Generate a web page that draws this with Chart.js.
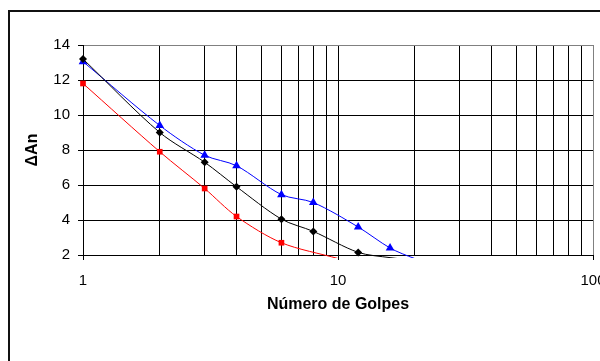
<!DOCTYPE html>
<html>
<head>
<meta charset="utf-8">
<script src="https://cdn.jsdelivr.net/npm/chart.js@4/dist/chart.umd.min.js"></script>
<style>
  html, body { margin: 0; padding: 0; background: #fff; overflow: hidden; }
  #frame { position: absolute; left: 8px; top: 10px; width: 700px; height: 500px;
           border-left: 2px solid #111; border-top: 2px solid #111; }
  #wrap { position: absolute; left: 0; top: 0; width: 650px; height: 361px; }
</style>
</head>
<body>
<div id="frame"></div>
<div id="wrap"><canvas id="chart"></canvas></div>
<script>
// golpes (x) and ΔAn (y)
const blackX = [1, 2, 3, 4, 6, 8, 12, 16, 20];
const blackY = [13.2, 9.0, 7.3, 5.9, 4.05, 3.35, 2.15, 1.85, 1.7];
const redX = [1, 2, 3, 4, 6, 10];
const redY = [11.8, 7.9, 5.8, 4.2, 2.7, 1.8];
const blueX = [1, 2, 3, 4, 6, 8, 12, 16, 20, 24];
const blueY = [13.05, 9.4, 7.7, 7.1, 5.45, 5.0, 3.6, 2.4, 1.8, 1.5];

const xGrid = [1, 2, 3, 4, 5, 6, 7, 8, 9, 10, 20, 30, 40, 50, 60, 70, 80, 90, 100];
const xLabels = [1, 10, 100];
const yTicks = [2, 4, 6, 8, 10, 12, 14];

const family = "'Liberation Sans', Arial, sans-serif";
const tickFont = { family: family, size: 15 };
const titleFont = { family: family, size: 16, weight: 'bold' };

function points(xs, ys) {
  return xs.map((x, i) => ({ x: x, y: ys[i] }));
}

function series(label, xs, ys, color, shape, r) {
  return {
    label: label,
    data: points(xs, ys),
    borderColor: color,
    backgroundColor: color,
    borderWidth: 1,
    tension: 0.3,
    pointStyle: shape,
    pointRadius: ctx => (ctx.raw && ctx.raw.y < 2 ? 0 : r),
    pointBorderWidth: 0,
    clip: { left: 8, top: 8, right: 0, bottom: 3 },
  };
}

new Chart(document.getElementById('chart'), {
  type: 'line',
  data: {
    datasets: [
      series('Negro', blackX, blackY, '#000000', 'rectRot', 4),
      series('Rojo', redX, redY, '#ff0000', 'rect', 4),
      series('Azul', blueX, blueY, '#0000ff', 'triangle', 5),
    ]
  },
  options: {
    responsive: true,
    maintainAspectRatio: false,
    animation: false,
    layout: { padding: { left: 23, top: 45, right: 57, bottom: 47 } },
    plugins: { legend: { display: false }, tooltip: { enabled: false } },
    scales: {
      x: {
        type: 'logarithmic',
        min: 1,
        max: 100,
        afterBuildTicks: s => { s.ticks = xGrid.map(v => ({ value: v })); },
        afterFit: s => { s.height = 59; },
        grid: {
          color: ctx => (ctx.tick && ctx.tick.value === 100 ? '#808080' : '#000'),
          lineWidth: 1,
          tickLength: 5,
          tickColor: ctx => (ctx.tick && xLabels.includes(ctx.tick.value) ? '#000' : 'rgba(0,0,0,0)'),
        },
        border: { color: '#000', width: 1 },
        ticks: {
          autoSkip: false,
          maxRotation: 0,
          padding: 12,
          color: '#000',
          font: tickFont,
          callback: v => (xLabels.includes(v) ? String(v) : ''),
        },
        title: {
          display: true,
          text: 'Número de Golpes',
          color: '#000',
          font: titleFont,
          padding: 0,
        },
      },
      y: {
        min: 2,
        max: 14,
        afterBuildTicks: s => { s.ticks = yTicks.map(v => ({ value: v })); },
        afterFit: s => { s.width = 60; },
        grid: {
          color: ctx => (ctx.tick && ctx.tick.value === 14 ? '#808080' : '#000'),
          lineWidth: 1,
          tickLength: 5,
          tickColor: '#000',
        },
        border: { color: '#000', width: 1 },
        ticks: { padding: 8, color: '#000', font: tickFont },
        title: {
          display: true,
          text: 'ΔAn',
          color: '#000',
          font: titleFont,
          padding: 0,
        },
      },
    },
  },
});
</script>
</body>
</html>
